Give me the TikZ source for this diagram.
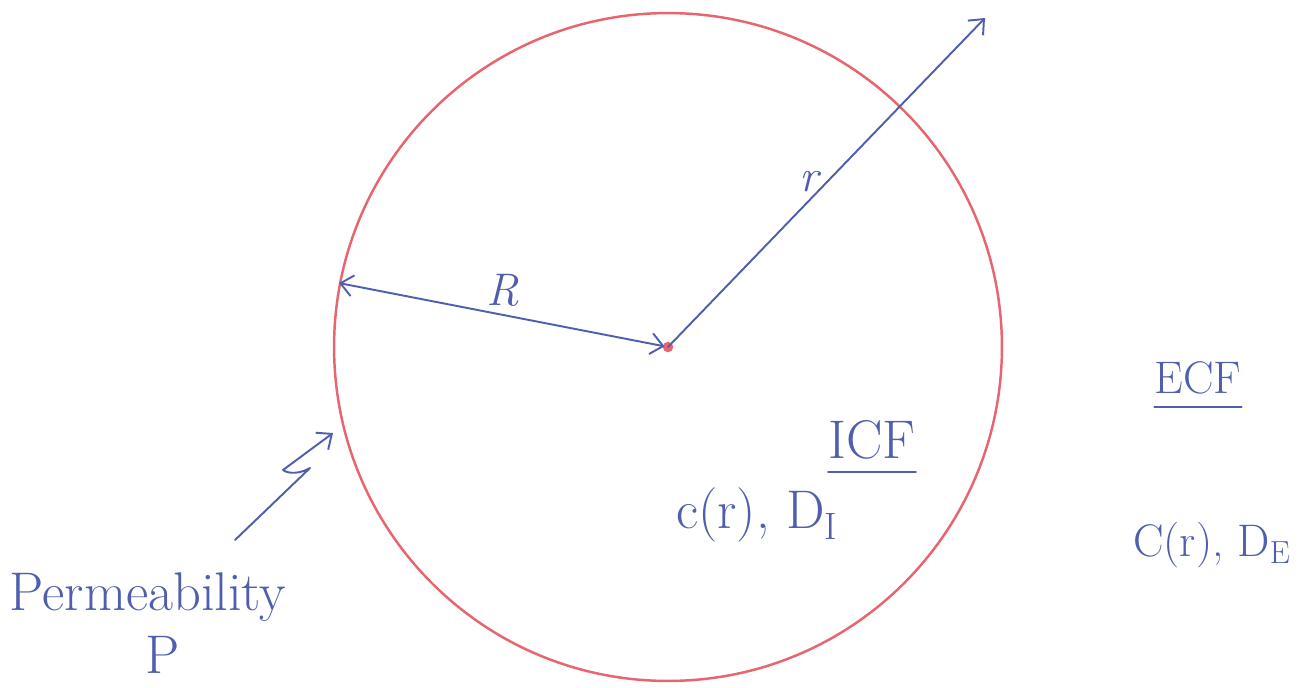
\documentclass[tikz,border=0pt]{standalone}
\usepackage{amsmath, amssymb}
\usepackage{tikz}
\usetikzlibrary{arrows.meta}
\usepackage{xcolor}
\definecolor{InkBlue}{HTML}{4F5FAE}
\definecolor{MembraneRed}{HTML}{E8646E}

\begin{document}
\begin{tikzpicture}[x=0.02cm, y=-0.02cm,
    ink/.style={InkBlue, line width=1.1pt, line cap=round, line join=round},
    barb/.style={ink, -{Straight Barb[length=7pt, width=12pt]}},
    hand/.style={text=InkBlue, inner sep=0pt, font=\fontsize{26}{30}\selectfont},
    bighand/.style={hand, font=\fontsize{31}{36}\selectfont}]
  \useasboundingbox (0,0) rectangle (1312,687);
  % the cell and its centre
  \node[draw=MembraneRed, line width=1.4pt, circle, minimum size=13.36cm,
        inner sep=0pt] (cell) at (668,347) {};
  \fill[MembraneRed] (cell.center) circle (3pt);
  % radii
  \coordinate (far) at (985,18);
  \draw[barb] (cell.center) -- (far);
  \draw[ink, {Straight Barb[length=7pt, width=12pt]}-{Straight Barb[length=7pt, width=12pt]},
        shorten >=2pt] (cell.169) -- (cell.center);
  \node[hand] (lblR) at (503,290) {\textit{R}};
  \node[hand] (lblr) at (810,182) {\textit{r}};
  % inside
  \node[bighand] (icf) at (872,440) {ICF};
  \draw[ink] ([yshift=-7pt]icf.south west) -- ([yshift=-7pt]icf.south east);
  \node[bighand] (inner) at (757,515) {c(r), D\textsubscript{I}};
  % outside
  \node[hand] (ecf) at (1198,378) {ECF};
  \draw[ink] ([yshift=-7pt]ecf.south west) -- ([yshift=-7pt]ecf.south east);
  \node[hand] (outer) at (1212,545) {C(r), D\textsubscript{E}};
  % membrane label
  \node[bighand] (perm) at (148,597) {Permeability};
  \node[bighand] (permP) at (163,655) {P};
  \coordinate (tail) at (235,540);
  \coordinate (pore) at (333,433);
  \draw[barb] (tail) -- (310,468) .. controls (300,474) and (288,474) .. (283,470)
    -- (pore);
\end{tikzpicture}
\end{document}
